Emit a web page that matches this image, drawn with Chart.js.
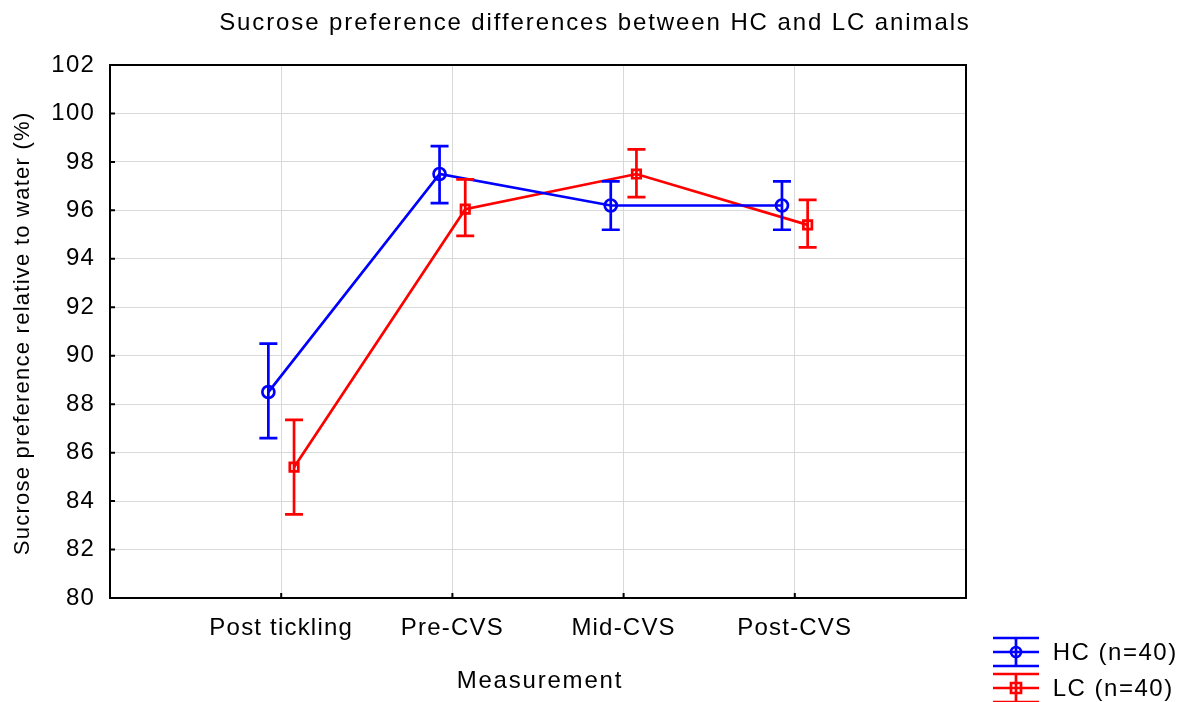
<!DOCTYPE html>
<html>
<head>
<meta charset="utf-8">
<script src="https://cdn.jsdelivr.net/npm/chart.js@4/dist/chart.umd.min.js"></script>
<style>
html,body{margin:0;padding:0;background:#fff;}
#wrap{width:1186px;height:702px;position:relative;}
</style>
</head>
<body>
<div id="wrap"><canvas id="c" width="1186" height="702"></canvas></div>
<script>
const categories = ["Post tickling", "Pre-CVS", "Mid-CVS", "Post-CVS"];
const hcMean  = [88.5, 97.5, 96.2, 96.2];
const hcLow   = [86.6, 96.3, 95.2, 95.2];
const hcHigh  = [90.5, 98.65, 97.2, 97.2];
const lcMean  = [85.4, 96.05, 97.5, 95.4];
const lcLow   = [83.45, 94.95, 96.55, 94.47];
const lcHigh  = [87.35, 97.28, 98.52, 96.43];
const yTicks  = [80, 82, 84, 86, 88, 90, 92, 94, 96, 98, 100, 102];
const seriesNames = ["HC (n=40)", "LC (n=40)"];
const FONT = "'Liberation Sans', Arial, sans-serif";
const OFF = 0.075;

const hcPts = hcMean.map((v,i)=>({x:i+1-OFF, y:v, lo:hcLow[i], hi:hcHigh[i]}));
const lcPts = lcMean.map((v,i)=>({x:i+1+OFF, y:v, lo:lcLow[i], hi:lcHigh[i]}));

function spaced(ctx, text, x, y, size, spacing){
  ctx.font = size + 'px ' + FONT;
  ctx.letterSpacing = spacing + 'px';
  ctx.fillText(text, x + spacing/2, y);
}

const decor = {
  id:'decor',
  beforeDraw(chart){
    chart.ctx.letterSpacing = '1.2px';
  },
  afterDatasetsDraw(chart){
    const ctx = chart.ctx, xs = chart.scales.x, ys = chart.scales.y;
    chart.data.datasets.forEach(ds=>{
      ctx.save();
      ctx.strokeStyle = ds.borderColor; ctx.lineWidth = 2.7;
      ds.data.forEach(p=>{
        const x = xs.getPixelForValue(p.x);
        const yl = ys.getPixelForValue(p.lo), yh = ys.getPixelForValue(p.hi);
        ctx.beginPath();
        ctx.moveTo(x, yl); ctx.lineTo(x, yh);
        ctx.moveTo(x-9, yl); ctx.lineTo(x+9, yl);
        ctx.moveTo(x-9, yh); ctx.lineTo(x+9, yh);
        ctx.stroke();
      });
      ctx.restore();
    });
  },
  afterDraw(chart){
    const ctx = chart.ctx, xs = chart.scales.x, ys = chart.scales.y, a = chart.chartArea;
    ctx.save();
    ctx.strokeStyle = '#000'; ctx.lineWidth = 2;
    ctx.strokeRect(a.left, a.top, a.right-a.left, a.bottom-a.top);
    ctx.beginPath();
    yTicks.forEach(v=>{ const y = ys.getPixelForValue(v); ctx.moveTo(a.left, y); ctx.lineTo(a.left+5, y); });
    categories.forEach((c,i)=>{ const x = xs.getPixelForValue(i+1); ctx.moveTo(x, a.bottom); ctx.lineTo(x, a.bottom-5); });
    ctx.stroke();
    ctx.fillStyle = '#000';
    ctx.textAlign = 'center'; ctx.textBaseline = 'middle';
    spaced(ctx, 'Sucrose preference differences between HC and LC animals', 594, 23, 24, 1.9);
    spaced(ctx, 'Measurement', 539, 681, 24, 1.8);
    ctx.save();
    ctx.translate(23, 334); ctx.rotate(-Math.PI/2);
    spaced(ctx, 'Sucrose preference relative to water (%)', 0, 0, 22, 1.25);
    ctx.restore();
    const items = [
      {name: seriesNames[0], color:'#0000ff', shape:'circle', cy:652},
      {name: seriesNames[1], color:'#ff0000', shape:'rect', cy:688}
    ];
    items.forEach(it=>{
      ctx.strokeStyle = it.color; ctx.lineWidth = 2.7;
      ctx.beginPath();
      [-14,0,14].forEach(d=>{ ctx.moveTo(993, it.cy+d); ctx.lineTo(1039, it.cy+d); });
      ctx.moveTo(1016, it.cy-14); ctx.lineTo(1016, it.cy+14);
      ctx.stroke();
      ctx.beginPath();
      if (it.shape==='circle') ctx.arc(1016, it.cy, 5, 0, Math.PI*2);
      else ctx.rect(1011, it.cy-5, 10, 10);
      ctx.stroke();
      ctx.fillStyle = '#000'; ctx.textAlign = 'left';
      spaced(ctx, it.name, 1052, it.cy+1, 24, 1.5);
    });
    ctx.restore();
  }
};

new Chart(document.getElementById('c'), {
  type: 'line',
  data: {
    datasets: [
      {label: seriesNames[0], data: hcPts, borderColor:'#0000ff', backgroundColor:'#ffffff',
       borderWidth:2.7, pointStyle:'circle', pointRadius:6, pointBorderWidth:2.7, pointBackgroundColor:'rgba(0,0,0,0)', tension:0},
      {label: seriesNames[1], data: lcPts, borderColor:'#ff0000', backgroundColor:'#ffffff',
       borderWidth:2.7, pointStyle:'rect', pointRadius:6, pointBorderWidth:2.7, pointBackgroundColor:'rgba(0,0,0,0)', tension:0}
    ]
  },
  options: {
    responsive:false, animation:false, devicePixelRatio:1,
    layout:{padding:{top:65, right:220, bottom:0, left:0}},
    plugins:{legend:{display:false}, title:{display:false}, tooltip:{enabled:false}},
    scales:{
      x:{type:'linear', min:0, max:5,
        afterBuildTicks(s){ s.ticks = categories.map((c,i)=>({value:i+1})); },
        afterFit(s){ s.height = 104; },
        ticks:{callback:(v)=>categories[v-1] ?? '', color:'#000', font:{family:FONT, size:24}, padding:16, maxRotation:0, autoSkip:false},
        grid:{color:'#d9d9d9', lineWidth:1, drawTicks:false},
        border:{display:false}
      },
      y:{min:80, max:102,
        afterBuildTicks(s){ s.ticks = yTicks.map(v=>({value:v})); },
        afterFit(s){ s.width = 110; },
        ticks:{color:'#000', font:{family:FONT, size:24}, padding:15},
        grid:{color:'#d9d9d9', lineWidth:1, drawTicks:false},
        border:{display:false}
      }
    }
  },
  plugins:[decor]
});
</script>
</body>
</html>
